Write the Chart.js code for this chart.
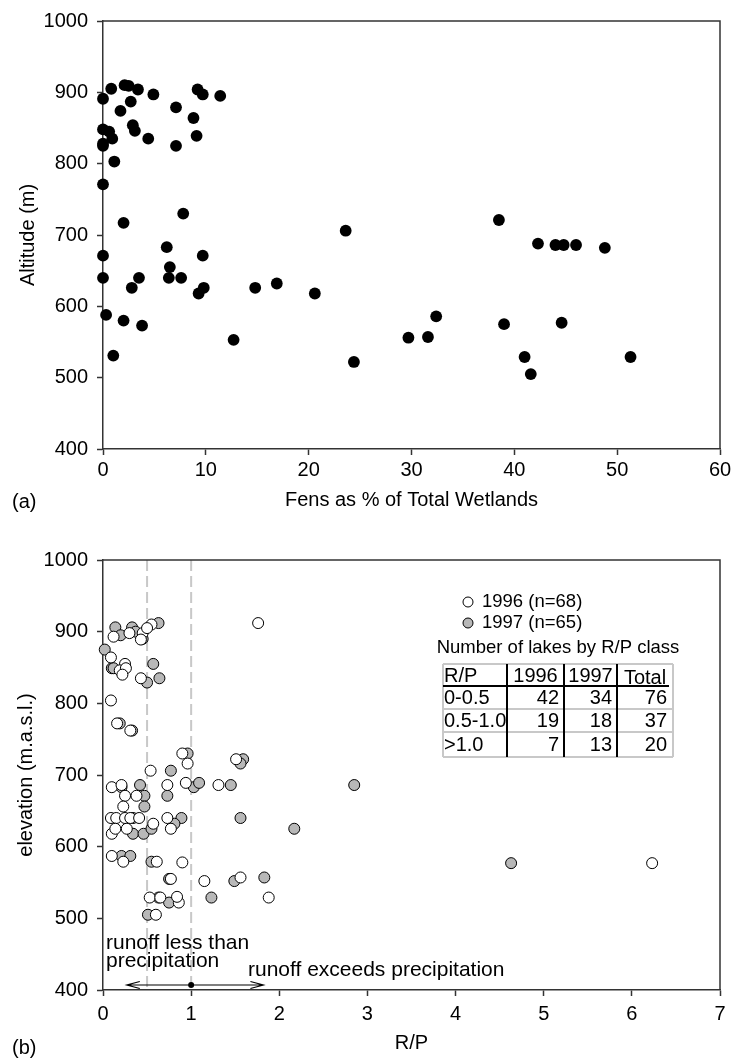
<!DOCTYPE html>
<html>
<head>
<meta charset="utf-8">
<script src="https://cdn.jsdelivr.net/npm/chart.js@4.4.1/dist/chart.umd.min.js"></script>
<style>
  body { margin: 0; background: #fff; }
  .panel { position: absolute; left: 0; width: 735px; }
</style>
</head>
<body>
<div class="panel" style="top:0;height:530px"><canvas id="graficoA"></canvas></div>
<div class="panel" style="top:530px;height:529px"><canvas id="graficoB"></canvas></div>
<script>
// (a) fens as % of total wetlands vs altitude
const fensPct = [0.8, 2.1, 2.5, 3.4, 4.9, 0, 2.7, 1.7, 9.2, 9.7, 11.4, 7.1, 8.8, 2.9, 3.1, 0, 0.6, 0.9, 0, 0, 4.4, 7.1, 9.1, 1.1, 0, 2.0, 7.8, 23.6, 0, 6.2, 9.7, 6.5, 0, 3.5, 6.4, 7.6, 2.8, 9.3, 9.8, 14.8, 16.9, 20.6, 0.3, 2.0, 3.8, 12.7, 29.7, 1.0, 24.4, 31.6, 32.4, 38.5, 39.0, 41.0, 41.6, 44.6, 42.3, 44.0, 44.8, 46.0, 48.8, 51.3];
const altitud = [905, 910, 909, 904, 897, 891, 887, 874, 904, 897, 895, 879, 864, 854, 846, 848, 845, 835, 828, 825, 835, 825, 839, 803, 771, 717, 730, 706, 671, 683, 671, 655, 640, 640, 640, 640, 626, 618, 626, 626, 632, 618, 588, 580, 573, 553, 556, 531, 522, 557, 586, 721, 575, 529, 505, 577, 688, 686, 686, 686, 682, 529];

// (b) R/P vs elevation, two years
const rp1996 = [0.09, 0.25, 0.19, 0.26, 0.22, 0.43, 0.09, 0.16, 0.31, 0.90, 0.96, 1.51, 0.54, 0.10, 0.21, 0.73, 0.94, 1.31, 0.25, 0.38, 0.23, 0.09, 0.15, 0.25, 0.31, 0.41, 0.73, 0.10, 0.14, 0.27, 0.57, 0.77, 0.10, 0.23, 0.61, 0.90, 0.77, 1.15, 1.56, 0.53, 0.65, 0.86, 0.84, 1.88, 0.60, 1.76, 0.55, 0.12, 0.30, 0.45, 0.50, 0.43, 6.23];
const elev1996 = [864, 855, 846, 849, 840, 835, 804, 772, 762, 730, 716, 722, 706, 683, 686, 686, 689, 686, 671, 671, 656, 640, 640, 640, 640, 640, 640, 618, 625, 625, 632, 625, 587, 579, 579, 578, 555, 552, 557, 529, 529, 522, 530, 529, 505, 912, 910, 893, 898, 898, 905, 889, 577];
const rp1997 = [0.02, 0.57, 0.10, 0.12, 0.50, 0.64, 0.19, 0.33, 0.96, 1.59, 1.56, 0.77, 0.21, 0.42, 1.03, 1.09, 1.45, 0.47, 0.73, 0.47, 0.34, 0.89, 1.56, 0.34, 0.46, 0.55, 0.81, 2.17, 0.21, 0.31, 0.55, 0.75, 1.49, 1.83, 0.63, 0.75, 1.23, 0.51, 0.63, 0.14, 0.33, 0.20, 0.37, 0.45, 2.85, 4.63];
const elev1997 = [875, 855, 849, 849, 829, 835, 772, 762, 730, 722, 716, 706, 683, 686, 683, 689, 686, 671, 671, 656, 640, 640, 640, 618, 618, 625, 632, 625, 587, 587, 579, 555, 552, 557, 529, 522, 529, 505, 912, 906, 906, 895, 900, 890, 686, 577];

const etiquetasLeyenda = ['1996 (n=68)', '1997 (n=65)'];
const tituloTabla = 'Number of lakes by R/P class';
const cabeceraTabla = ['R/P', '1996', '1997', 'Total'];
const clasesRP = ['0-0.5', '0.5-1.0', '>1.0'];
const lagos1996 = [42, 19, 7];
const lagos1997 = [34, 18, 13];
const lagosTotal = [76, 37, 20];
const limitesRP = [0.5, 1.0];

const fuente = "'Liberation Sans', Arial, Helvetica, sans-serif";
const gris = '#b8b8b8';

function escala(min, max, paso, titulo, padTitulo, padTicks, fijar) {
    return {
        type: 'linear',
        min: min,
        max: max,
        ticks: {
            stepSize: paso,
            color: '#000',
            font: { family: fuente, size: 20 },
            padding: padTicks,
            callback: v => String(v)
        },
        grid: { drawOnChartArea: false, drawTicks: true, tickLength: 6, color: '#333', tickWidth: 1.5 },
        border: { display: true, color: '#333', width: 1.5 },
        title: { display: true, text: titulo, color: '#000', font: { family: fuente, size: 20 }, padding: padTitulo },
        afterFit: fijar
    };
}

// top and right border of the plot box, plus the panel letter
function marco(letra, yLetra) {
    return {
        id: 'marco' + letra,
        afterDraw(chart) {
            const { ctx, chartArea: a } = chart;
            ctx.save();
            ctx.strokeStyle = '#333';
            ctx.lineWidth = 1.5;
            ctx.beginPath();
            ctx.moveTo(a.left, a.top);
            ctx.lineTo(a.right, a.top);
            ctx.lineTo(a.right, a.bottom);
            ctx.stroke();
            ctx.fillStyle = '#000';
            ctx.font = '20px ' + fuente;
            ctx.textBaseline = 'middle';
            ctx.fillText(letra, 12, yLetra);
            ctx.restore();
        }
    };
}

function puntos(xs, ys) {
    return xs.map((x, i) => ({ x: x, y: ys[i] }));
}

new Chart(document.getElementById('graficoA'), {
    type: 'scatter',
    data: {
        datasets: [{
            data: puntos(fensPct, altitud),
            backgroundColor: '#000',
            borderWidth: 0,
            pointRadius: 5.9,
            clip: false
        }]
    },
    options: {
        responsive: true,
        maintainAspectRatio: false,
        animation: false,
        layout: { padding: { top: 18, right: 15, left: 0, bottom: 0 } },
        plugins: { legend: { display: false }, tooltip: { enabled: false } },
        scales: {
            x: escala(0, 60, 10, 'Fens as % of Total Wetlands', { bottom: 18 }, 3, s => { s.height = 81; }),
            y: escala(400, 1000, 100, 'Altitude (m)', { top: 16 }, 9, s => { s.width = 103; })
        }
    },
    plugins: [marco('(a)', 502)]
});

const decoracionB = {
    id: 'decoracionB',
    beforeDatasetsDraw(chart) {
        const { ctx, chartArea: a, scales: { x } } = chart;
        ctx.save();
        ctx.strokeStyle = '#c8c8c8';
        ctx.lineWidth = 2;
        ctx.setLineDash([11, 5]);
        limitesRP.forEach(v => {
            const px = x.getPixelForValue(v);
            ctx.beginPath();
            ctx.moveTo(px, a.top);
            ctx.lineTo(px, a.bottom);
            ctx.stroke();
        });
        ctx.restore();
    },
    afterDraw(chart) {
        const { ctx, scales: { x, y } } = chart;
        ctx.save();
        ctx.fillStyle = '#000';
        ctx.strokeStyle = '#000';

        // arrow along the bottom
        const yf = y.getPixelForValue(407);
        const x0 = x.getPixelForValue(0.27), x1 = x.getPixelForValue(1.82), xc = x.getPixelForValue(1.0);
        ctx.lineWidth = 1.2;
        ctx.beginPath();
        ctx.moveTo(x0, yf); ctx.lineTo(x1, yf);
        ctx.moveTo(x0 + 13, yf - 3.5); ctx.lineTo(x0, yf); ctx.lineTo(x0 + 13, yf + 3.5);
        ctx.moveTo(x1 - 13, yf - 3.5); ctx.lineTo(x1, yf); ctx.lineTo(x1 - 13, yf + 3.5);
        ctx.stroke();
        ctx.beginPath();
        ctx.arc(xc, yf, 3, 0, Math.PI * 2);
        ctx.fill();

        ctx.font = '21px ' + fuente;
        ctx.textBaseline = 'middle';
        ctx.textAlign = 'left';
        ctx.fillText('runoff less than', 106, 413);
        ctx.fillText('precipitation', 106, 431);
        ctx.fillText('runoff exceeds precipitation', 248, 440);

        // legend
        ctx.font = '18.5px ' + fuente;
        const colores = ['#fff', gris];
        etiquetasLeyenda.forEach((t, i) => {
            const ly = 72 + i * 21;
            ctx.beginPath();
            ctx.arc(468, ly, 5, 0, Math.PI * 2);
            ctx.fillStyle = colores[i];
            ctx.fill();
            ctx.lineWidth = 1;
            ctx.strokeStyle = '#000';
            ctx.stroke();
            ctx.fillStyle = '#000';
            ctx.fillText(t, 482, ly);
        });

        // table
        ctx.textAlign = 'center';
        ctx.fillText(tituloTabla, 558, 118);
        const cols = [443, 507, 564, 617, 673];
        const filas = [134, 156, 179, 202, 227];
        ctx.strokeStyle = '#c8c8c8';
        ctx.lineWidth = 2;
        ctx.beginPath();
        [filas[0], filas[2], filas[3], filas[4]].forEach(fy => { ctx.moveTo(cols[0], fy); ctx.lineTo(cols[4], fy); });
        [cols[0], cols[4]].forEach(cx => { ctx.moveTo(cx, filas[0]); ctx.lineTo(cx, filas[4]); });
        ctx.stroke();
        ctx.strokeStyle = '#000';
        ctx.beginPath();
        ctx.moveTo(cols[0], filas[1]); ctx.lineTo(cols[4] - 4, filas[1]);
        [cols[1], cols[2], cols[3]].forEach(cx => { ctx.moveTo(cx, filas[0]); ctx.lineTo(cx, filas[4]); });
        ctx.stroke();

        ctx.font = '20px ' + fuente;
        const mitad = (i) => (filas[i] + filas[i + 1]) / 2 + 1;
        ctx.textAlign = 'left';
        ctx.fillText(cabeceraTabla[0], cols[0] + 1, mitad(0));
        ctx.textAlign = 'center';
        for (let c = 1; c < 4; c++) ctx.fillText(cabeceraTabla[c], (cols[c] + cols[c + 1]) / 2, mitad(0) + (c === 3 ? 2 : 0));
        clasesRP.forEach((cl, r) => {
            ctx.textAlign = 'left';
            ctx.fillText(cl, cols[0] + 1, mitad(r + 1));
            ctx.textAlign = 'right';
            ctx.fillText(String(lagos1996[r]), cols[2] - 5, mitad(r + 1));
            ctx.fillText(String(lagos1997[r]), cols[3] - 5, mitad(r + 1));
            ctx.fillText(String(lagosTotal[r]), cols[4] - 6, mitad(r + 1));
        });
        ctx.restore();
    }
};

new Chart(document.getElementById('graficoB'), {
    type: 'scatter',
    data: {
        datasets: [
            {
                label: etiquetasLeyenda[0],
                data: puntos(rp1996, elev1996),
                backgroundColor: '#fff',
                borderColor: '#000',
                borderWidth: 1,
                pointRadius: 5.5,
                clip: false
            },
            {
                label: etiquetasLeyenda[1],
                data: puntos(rp1997, elev1997),
                backgroundColor: gris,
                borderColor: '#000',
                borderWidth: 1,
                pointRadius: 5.5,
                clip: false
            }
        ]
    },
    options: {
        responsive: true,
        maintainAspectRatio: false,
        animation: false,
        layout: { padding: { top: 30, right: 15, left: 0, bottom: 0 } },
        plugins: { legend: { display: false }, tooltip: { enabled: false } },
        scales: {
            x: escala(0, 7, 1, 'R/P', { bottom: 4 }, 6, s => { s.height = 69; }),
            y: escala(400, 1000, 100, 'elevation (m.a.s.l.)', { top: 14 }, 9, s => { s.width = 103; })
        }
    },
    plugins: [decoracionB, marco('(b)', 518)]
});
</script>
</body>
</html>
